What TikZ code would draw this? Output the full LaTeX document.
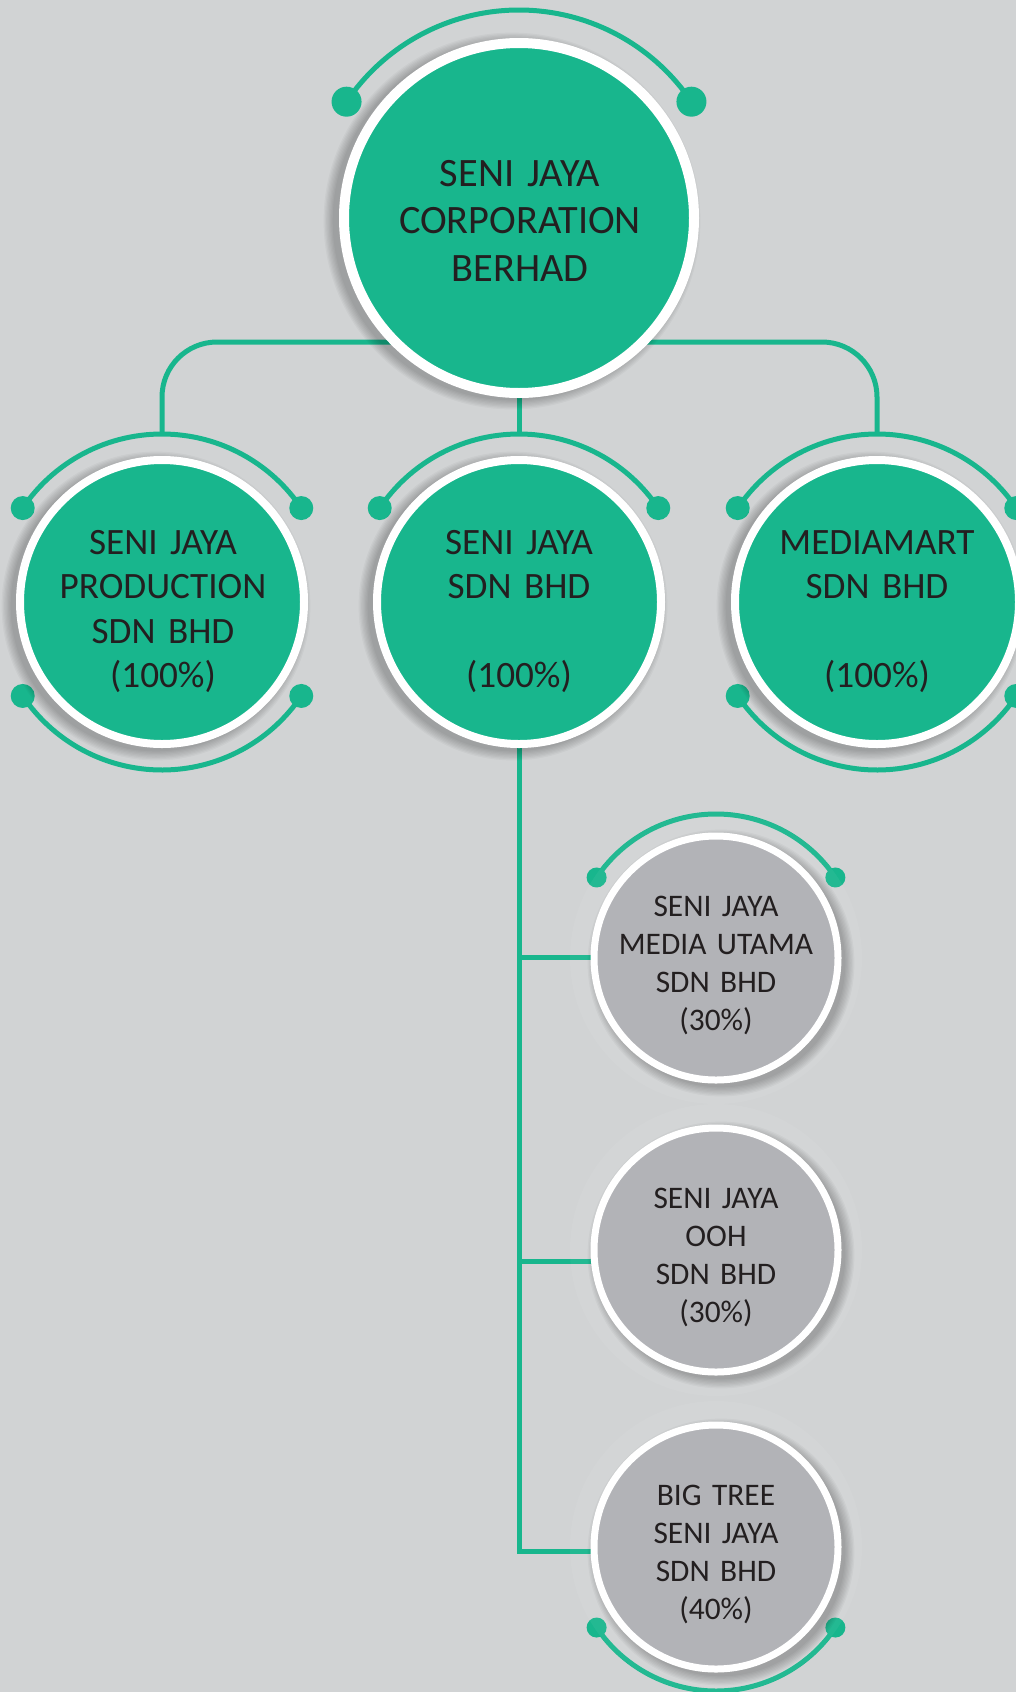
\documentclass[tikz,border=0pt]{standalone}
\usepackage{fontspec}
\setmainfont{Carlito}
\usetikzlibrary{calc}
\definecolor{bg}{RGB}{209,211,212}
\definecolor{sjgreen}{RGB}{24,182,141}
\definecolor{sjgray}{RGB}{178,179,183}
\definecolor{txt}{RGB}{35,31,32}
\newcommand\sjshadow[4]{%
  \foreach \k in {1,...,8}{\fill[black,opacity=0.03] ($(#1)+(#3,#4)$) circle[radius=#2+\k*1.3];}}
\newcommand\sjtoparc[3]{%
  \draw[arcline] ($(#1)+(214:#2)$) arc[start angle=214, end angle=326, radius=#2];
  \fill[sjgreen] ($(#1)+(214:#2)$) circle[radius=#3] ($(#1)+(326:#2)$) circle[radius=#3];}
\newcommand\sjbotarc[3]{%
  \draw[arcline] ($(#1)+(146:#2)$) arc[start angle=146, end angle=34, radius=#2];
  \fill[sjgreen] ($(#1)+(146:#2)$) circle[radius=#3] ($(#1)+(34:#2)$) circle[radius=#3];}
\begin{document}
\begin{tikzpicture}[x=1pt,y=-1pt,
  conn/.style={draw=sjgreen, line width=5pt},
  arcline/.style={draw=sjgreen, line width=5pt},
  bigball/.style={circle, fill=sjgreen, draw=white, line width=10pt, minimum size=350pt, inner sep=0pt},
  midball/.style={circle, fill=sjgreen, draw=white, line width=8pt, minimum size=284pt, inner sep=0pt},
  smallball/.style={circle, fill=sjgray, draw=white, line width=7pt, minimum size=244pt, inner sep=0pt},
  bigtext/.style={text=txt, align=center, text width=330pt, anchor=base, inner sep=0pt, font=\fontsize{40.3}{47.5}\selectfont},
  midtext/.style={text=txt, align=center, text width=270pt, anchor=base, inner sep=0pt, font=\fontsize{37.2}{44.5}\selectfont},
  smalltext/.style={text=txt, align=center, text width=230pt, anchor=base, inner sep=0pt, font=\fontsize{31.4}{38.3}\selectfont}
]
\useasboundingbox (0,0) rectangle (1016,1692);
\fill[bg] (0,0) rectangle (1016,1692);
% centres
\coordinate (cTop) at (519,218);
\coordinate (cL) at (162,602);
\coordinate (cM) at (519,602);
\coordinate (cR) at (877,602);
\coordinate (cG1) at (716,958);
\coordinate (cG2) at (716,1250);
\coordinate (cG3) at (716,1547);
\coordinate (aL) at (162,434);
\coordinate (aM) at (519,434);
\coordinate (aR) at (877,434);
\coordinate (bus) at (519,342);
\coordinate (j1) at (519,957);
\coordinate (j2) at (519,1261);
\coordinate (j3) at (519,1551);
% connectors
\draw[conn, rounded corners=55pt] (aL) |- (bus) -| (aR);
\draw[conn] (cTop) -- (aM);
\draw[conn] (cM) -- (j3) -- (j3 -| cG3);
\draw[conn] (j1) -- (j1 -| cG1);
\draw[conn] (j2) -- (j2 -| cG2);
% arcs
\sjtoparc{cTop}{208}{15}
\sjtoparc{cL}{168}{12}
\sjbotarc{cL}{168}{12}
\sjtoparc{cM}{168}{12}
\sjtoparc{cR}{168}{12}
\sjbotarc{cR}{168}{12}
\sjtoparc{cG1}{144}{10}
\sjbotarc{cG3}{144}{10}
% glows and shadows
\foreach \c in {cG1,cG2,cG3}{\fill[white,opacity=0.05] (\c) circle[radius=146];}
\sjshadow{cTop}{178}{-7}{3}
\sjshadow{cL}{144}{-6}{4}
\sjshadow{cM}{144}{-6}{4}
\sjshadow{cR}{144}{-6}{4}
\sjshadow{cG1}{123}{5}{5}
\sjshadow{cG2}{123}{5}{5}
\sjshadow{cG3}{123}{5}{5}
% circles
\node[bigball] (top) at (cTop) {};
\node[midball] (prod) at (cL) {};
\node[midball] (sj) at (cM) {};
\node[midball] (mm) at (cR) {};
\node[smallball] (mu) at (cG1) {};
\node[smallball] (ooh) at (cG2) {};
\node[smallball] (bt) at (cG3) {};
% texts
\node[bigtext] (topT) at (520,186) {SENI JAYA\\CORPORATION\\BERHAD};
\node[midtext] (prodT) at (163,554) {SENI JAYA\\PRODUCTION\\SDN BHD\\(100\%)};
\node[midtext] (sjT) at (519,554) {SENI JAYA\\SDN BHD\\\mbox{}\\(100\%)};
\node[midtext] (mmT) at (877,554) {MEDIAMART\\SDN BHD\\\mbox{}\\(100\%)};
\node[smalltext] (muT) at (716,916) {SENI JAYA\\MEDIA UTAMA\\SDN BHD\\(30\%)};
\node[smalltext] (oohT) at (716,1208) {SENI JAYA\\OOH\\SDN BHD\\(30\%)};
\node[smalltext] (btT) at (716,1505) {BIG TREE\\SENI JAYA\\SDN BHD\\(40\%)};
\end{tikzpicture}
\end{document}
